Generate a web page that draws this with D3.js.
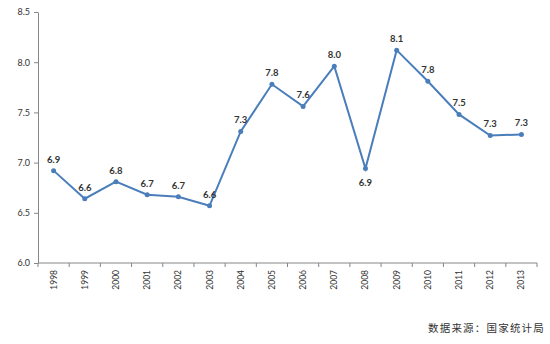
<!DOCTYPE html>
<html><head><meta charset="utf-8">
<script src="https://cdn.jsdelivr.net/npm/d3@7"></script>
<style>body{margin:0;background:#fff}svg{display:block}</style>
</head><body>
<svg id="c" width="550" height="344"></svg>
<script>
const years = ["1998","1999","2000","2001","2002","2003","2004","2005","2006","2007","2008","2009","2010","2011","2012","2013"];
const values = [6.92,6.64,6.81,6.68,6.66,6.57,7.31,7.78,7.56,7.96,6.94,8.12,7.81,7.48,7.27,7.28];
const labels = ["6.9","6.6","6.8","6.7","6.7","6.6","7.3","7.8","7.6","8.0","6.9","8.1","7.8","7.5","7.3","7.3"];
const yTicks = [6.0,6.5,7.0,7.5,8.0,8.5];
const source = "数据来源：国家统计局";

const svg = d3.select("#c");
const x = d3.scaleBand().domain(years).range([38,537]);
const y = d3.scaleLinear().domain([6,8.5]).range([263,12]);
const font = "Lato, 'Open Sans', sans-serif";

const yAxis = svg.append("g").attr("transform","translate(38,0)")
  .call(d3.axisLeft(y).tickValues(yTicks).tickFormat(d3.format(".1f")).tickSize(4).tickSizeOuter(0));
yAxis.select(".domain").attr("stroke","#868686");
yAxis.selectAll(".tick line").attr("stroke","#868686");
yAxis.selectAll("text").attr("font-family",font).attr("font-size",9).attr("fill","#333").attr("x",-8);

const xg = svg.append("g").attr("transform","translate(0,263)");
xg.append("line").attr("x1",38).attr("x2",537).attr("stroke","#868686");
const bounds = years.map(d=>x(d)).concat([x(years[years.length-1])+x.bandwidth()]);
xg.selectAll("line.t").data(bounds).join("line").attr("class","t")
  .attr("x1",d=>d).attr("x2",d=>d).attr("y1",0).attr("y2",4).attr("stroke","#868686");
xg.selectAll("text").data(years).join("text")
  .attr("transform",d=>`translate(${x(d)+x.bandwidth()/2+3},${7}) rotate(-90)`)
  .attr("text-anchor","end").attr("font-family",font).attr("font-size",8.5).attr("fill","#333").text(d=>d);

const cx = d => x(d)+x.bandwidth()/2;
const data = years.map((d,i)=>({year:d,v:values[i],l:labels[i]}));
svg.append("path").datum(data)
  .attr("d",d3.line().x(d=>cx(d.year)).y(d=>y(d.v)))
  .attr("fill","none").attr("stroke","#4A7EBB").attr("stroke-width",2);
svg.selectAll("circle").data(data).join("circle")
  .attr("cx",d=>cx(d.year)).attr("cy",d=>y(d.v)).attr("r",2.5).attr("fill","#4A7EBB");
svg.selectAll("text.lbl").data(data).join("text").attr("class","lbl")
  .attr("x",d=>cx(d.year)).attr("y",d=>d.year==="2008"? y(d.v)+17 : y(d.v)-8)
  .attr("text-anchor","middle").attr("font-family",font).attr("font-size",9.5).attr("font-weight","bold").attr("fill","#333")
  .text(d=>d.l);

svg.append("text").attr("x",545).attr("y",332).attr("text-anchor","end")
  .attr("font-family","'Noto Sans CJK SC', sans-serif").attr("font-size",10.5).attr("letter-spacing",1.2).attr("fill","#333").text(source);
</script>
</body></html>
